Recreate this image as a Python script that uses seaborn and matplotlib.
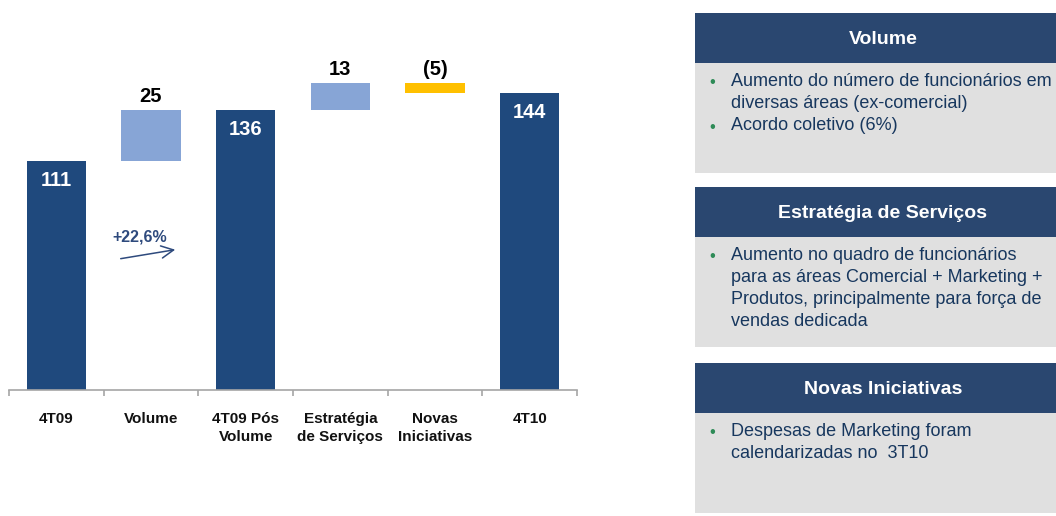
import matplotlib
matplotlib.use("Agg")
import matplotlib.pyplot as plt
import seaborn as sns
from matplotlib.patches import Rectangle

# waterfall data
categories = ["4T09", "Volume", "4T09 Pós\nVolume", "Estratégia\nde Serviços", "Novas\nIniciativas", "4T10"]
heights = [111, 25, 136, 13, 5, 144]
bases = [0, 111, 0, 136, 144, 0]
value_labels = ["111", "25", "136", "13", "(5)", "144"]
is_total = [True, False, True, False, False, True]
growth_label = "+22,6%"

# side panels
panel_titles = ["Volume", "Estratégia de Serviços", "Novas Iniciativas"]
panel_lines = [
    [("•", "Aumento do número de funcionários em"), ("", "diversas áreas (ex-comercial)"),
     ("•", "Acordo coletivo (6%)")],
    [("•", "Aumento no quadro de funcionários"), ("", "para as áreas Comercial + Marketing +"),
     ("", "Produtos, principalmente para força de"), ("", "vendas dedicada")],
    [("•", "Despesas de Marketing foram"), ("", "calendarizadas no  3T10")],
]

DARK = "#1F497D"
LIGHT = "#87A5D6"
YELLOW = "#FFC000"
colors = [DARK, LIGHT, DARK, LIGHT, YELLOW, DARK]

sns.set_style("white")
plt.rcParams["font.family"] = ["Liberation Sans", "DejaVu Sans"]

W, H = 1056, 516
fig = plt.figure(figsize=(W / 100, H / 100), dpi=100)

ax = fig.add_axes([9 / W, 126 / H, 568 / W, 371 / H])
sns.barplot(x=categories, y=heights, hue=categories, palette=colors, legend=False,
            width=0.63, saturation=1, linewidth=0, ax=ax)
# lift the floating bars onto their base
for patch, b in zip(ax.patches, bases):
    patch.set_y(b)

ax.set_xlim(-0.5, 5.5)
ax.set_ylim(0, 180)
for s in ["top", "left", "right"]:
    ax.spines[s].set_visible(False)
ax.spines["bottom"].set_color("#A6A6A6")
ax.spines["bottom"].set_linewidth(1.2)
ax.set_yticks([])
ax.set_xlabel("")
ax.set_ylabel("")
ax.set_xticks(range(len(categories)))
ax.set_xticklabels(categories, fontsize=11, fontweight="bold", color="#111111", linespacing=1.4)
ax.tick_params(axis="x", which="major", length=0, pad=15.5)
ax.set_xticks([i - 0.5 for i in range(len(categories) + 1)], minor=True)
ax.tick_params(axis="x", which="minor", bottom=True, length=4, width=1.2,
               color="#A6A6A6", direction="out")

for i, (h, b, lab, tot) in enumerate(zip(heights, bases, value_labels, is_total)):
    top = b + h
    if tot:
        ax.annotate(lab, (i, top), xytext=(0, -14), textcoords="offset points",
                    ha="center", va="center", fontsize=14.5, fontweight="bold", color="white")
    else:
        ax.annotate(lab, (i, top), xytext=(0, 9.5), textcoords="offset points",
                    ha="center", va="center", fontsize=14.5, fontweight="bold", color="black")

# growth arrow between 4T09 and 4T09 Pós Volume
ax.annotate("", xy=(1.285, 68.3), xytext=(0.651, 63.5),
            arrowprops=dict(arrowstyle="->", color="#2E4A7D", lw=1.1, mutation_scale=22))
ax.text(0.884, 74.2, growth_label, ha="center", va="center", fontsize=11.5,
        fontweight="bold", color="#2E4A7D")

# right-hand panels drawn in pixel coordinates
pax = fig.add_axes([0, 0, 1, 1])
pax.set_xlim(0, W)
pax.set_ylim(H, 0)
pax.axis("off")
pax.patch.set_alpha(0)

panel_boxes = [(13, 63, 173), (187, 237, 347), (363, 413, 513)]
left, right = 695, 1070
for title, lines, (y0, y1, y2) in zip(panel_titles, panel_lines, panel_boxes):
    pax.add_patch(Rectangle((left, y0), right - left, y1 - y0, color="#2A4770", lw=0))
    pax.add_patch(Rectangle((left, y1), right - left, y2 - y1, color="#E0E0E0", lw=0))
    pax.text(883, (y0 + y1) / 2 + 1, title, ha="center", va="center", fontsize=14,
             fontweight="bold", color="white")
    for k, (bullet, txt) in enumerate(lines):
        yy = y1 + 18 + k * 22.3
        if bullet:
            pax.text(712, yy + 6, bullet, ha="center", va="baseline", fontsize=12, color="#2E8B57")
        pax.text(731, yy, txt, ha="left", va="center", fontsize=13, color="#17375E")

fig.savefig("out.png", dpi=100)
